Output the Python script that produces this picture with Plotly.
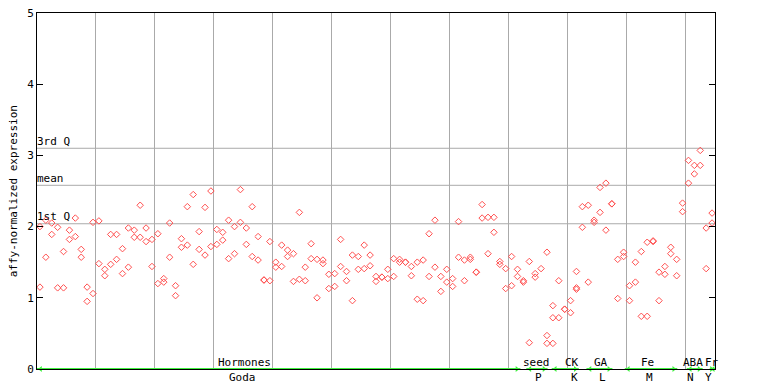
import plotly.graph_objects as go

# expression values per sample position (replicates)
values = [
    [2.00, 1.15], [2.09, 1.57], [2.05, 1.89], [1.99, 1.14], [1.65, 1.14],
    [1.95, 1.82], [2.12, 1.86], [1.68, 1.57], [1.15, 0.95], [2.06, 1.06],
    [2.08, 1.48], [1.40, 1.31], [1.89, 1.47], [1.89, 1.54], [1.69, 1.34],
    [1.98, 1.43], [1.95, 1.85], [2.30, 1.85], [1.98, 1.79], [1.82, 1.44],
    [1.90, 1.20], [1.27, 1.22], [2.05, 1.57], [1.17, 1.03], [1.83, 1.71],
    [2.28, 1.74], [2.45, 1.47], [1.93, 1.68], [2.27, 1.60], [2.50, 1.72],
    [1.96, 1.75], [1.92, 1.81], [2.09, 1.55], [2.00, 1.62], [2.52, 2.06],
    [1.98, 1.75], [2.28, 1.58], [1.86, 1.53], [1.25, 1.25], [1.79, 1.24],
    [1.50, 1.43], [1.74, 1.44], [1.67, 1.58], [1.62, 1.23], [2.20, 1.26],
    [1.43, 1.24], [1.76, 1.55], [1.54, 1.00], [1.53, 1.48], [1.33, 1.13],
    [1.34, 1.16], [1.82, 1.44], [1.37, 1.24], [1.60, 0.96], [1.58, 1.40],
    [1.74, 1.41], [1.60, 1.45], [1.30, 1.23], [1.29, 1.29], [1.40, 1.27],
    [1.55, 1.30], [1.54, 1.50], [1.50, 1.50], [1.44, 1.31], [1.50, 0.98],
    [1.53, 0.96], [1.90, 1.30], [2.09, 1.43], [1.30, 1.09], [1.40, 1.22],
    [1.27, 1.16], [2.07, 1.57], [1.53, 1.24], [1.57, 1.54], [1.36, 1.36],
    [2.31, 2.12], [2.13, 1.62], [2.13, 1.92], [1.51, 1.47], [1.41, 1.13],
    [1.58, 1.17], [1.40, 1.30], [1.24, 1.22], [1.51, 0.37], [1.34, 1.29],
    [1.41], [1.64, 0.47, 0.36], [0.89, 0.72, 0.36], [1.24, 0.72], [0.84, 0.84],
    [0.96, 0.79], [1.37, 1.14, 1.12], [2.28, 1.99], [2.30, 1.22], [2.09, 2.06],
    [2.55, 2.20], [2.61, 1.95], [2.32, 2.32], [1.54, 0.99], [1.64, 1.58],
    [1.17, 0.96], [1.50, 1.22], [1.65, 0.74], [1.78, 0.74], [1.80, 1.79],
    [1.36, 0.96], [1.44, 1.33], [1.71, 1.62], [1.54, 1.31], [2.33, 2.21],
    [2.93, 2.61], [2.86, 2.74], [3.07, 2.86], [1.98, 1.41], [2.19, 2.05],
]

q1_value = 2.04
mean_value = 2.58
q3_value = 3.10

y_ticks = [0, 1, 2, 3, 4, 5]

# experiment groups: name above axis, code below, range in sample units, label centres
group_names = ["Hormones", "seed", "CK", "GA", "Fe", "ABA", "Fr"]
group_codes = ["Goda", "P", "K", "L", "M", "N", "Y"]
group_start = [0.0, 83.0, 87.3, 93.2, 99.7, 110.2, 114.1]
group_end = [82.0, 86.6, 91.9, 97.6, 108.6, 112.9, 115.0]
name_pos = [35.25, 84.7, 90.7, 95.6, 103.5, 111.3, 114.5]
code_pos = [34.9, 85.0, 91.1, 96.0, 103.9, 110.9, 113.9]

n_samples = len(values)
xs, ys = [], []
for i, reps in enumerate(values):
    for v in reps:
        xs.append(i + 0.5)
        ys.append(v)

FONT = "DejaVu Sans Mono"
RED = "#ff5050"
GREEN = "#40f040"
GRID = "#aaaaaa"

fig = go.Figure()

for name, s, e in zip(group_names, group_start, group_end):
    fig.add_trace(go.Scatter(x=[s, e], y=[0, 0], mode="lines",
                             line=dict(color=GREEN, width=2),
                             hoverinfo="skip", showlegend=False, cliponaxis=False))
    fig.add_trace(go.Scatter(x=[s + 0.6, e - 0.6], y=[0, 0], mode="markers",
                             marker=dict(symbol=["triangle-left", "triangle-right"],
                                         size=5, color=GREEN),
                             hoverinfo="skip", showlegend=False, cliponaxis=False))

fig.add_trace(go.Scatter(x=xs, y=ys, mode="markers",
                         marker=dict(symbol="diamond-open", size=5, color=RED,
                                     line=dict(width=1, color=RED)),
                         showlegend=False))

for val in [q1_value, mean_value, q3_value]:
    fig.add_shape(type="line", xref="paper", x0=0, x1=1, y0=val, y1=val,
                  line=dict(color=GRID, width=1), layer="below")

for label, val in [("3rd Q", q3_value), ("mean", mean_value), ("1st Q", q1_value)]:
    fig.add_annotation(x=0, y=val, text=label, showarrow=False, xanchor="left",
                       yanchor="middle", xshift=-2, yshift=7,
                       font=dict(family=FONT, size=11, color="black"))

for name, code, xp, xc in zip(group_names, group_codes, name_pos, code_pos):
    fig.add_annotation(x=xp, y=0, text=name, showarrow=False, xanchor="center",
                       yanchor="middle", yshift=7,
                       font=dict(family=FONT, size=11, color="black"))
    fig.add_annotation(x=xc, y=0, text=code, showarrow=False, xanchor="center",
                       yanchor="middle", yshift=-8,
                       font=dict(family=FONT, size=11, color="black"))

fig.add_annotation(xref="paper", yref="paper", x=-0.035, y=0.5,
                   text="affy-normalized expression", textangle=-90,
                   showarrow=False, xanchor="center", yanchor="middle",
                   borderpad=0,
                   font=dict(family=FONT, size=11, color="black"))

# page body has an 8px margin, so the figure is sized/offset to compensate
fig.update_layout(
    width=760, height=376,
    margin=dict(l=29, r=53, t=5, b=15, autoexpand=False),
    plot_bgcolor="white", paper_bgcolor="white",
    font=dict(family=FONT, size=11, color="black"),
    xaxis=dict(range=[0, n_samples], showgrid=True, gridcolor=GRID, gridwidth=1,
               tick0=0, dtick=10, showticklabels=False, ticks="",
               showline=True, linecolor="black", linewidth=1, mirror=True,
               zeroline=False, fixedrange=True, automargin=False),
    yaxis=dict(range=[0, 5], tickvals=y_ticks, ticktext=[str(t) for t in y_ticks],
               showgrid=False, ticks="inside", ticklen=6, tickcolor="black",
               showline=True, linecolor="black", linewidth=1, mirror="ticks",
               zeroline=False, fixedrange=True, automargin=False,
               ticklabeloverflow="allow",
               tickfont=dict(family=FONT, size=11, color="black")),
)

fig.write_html("out.html")
